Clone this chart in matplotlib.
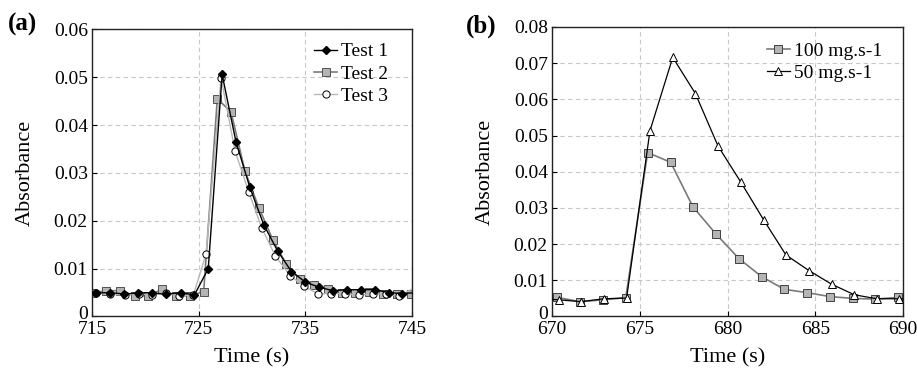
import numpy as np
import matplotlib
matplotlib.use("Agg")
import matplotlib.pyplot as plt
import matplotlib.transforms as mtransforms

plt.rcParams['font.family'] = ['Liberation Serif', 'DejaVu Serif']
plt.rcParams['font.size'] = 14

# panel (a) - three repeat tests
t1_time = [715.4, 716.7, 718.0, 719.3, 720.6, 721.9, 723.3, 724.6, 725.9, 727.2,
           728.5, 729.8, 731.1, 732.4, 733.7, 735.0, 736.3, 737.6, 738.9, 740.2,
           741.5, 742.8, 744.1, 745.4]
t1_abs = [0.0049, 0.0050, 0.0047, 0.0049, 0.0050, 0.0046, 0.0050, 0.0045, 0.0100, 0.0506,
          0.0365, 0.0270, 0.0192, 0.0137, 0.0094, 0.0072, 0.0061, 0.0054, 0.0056, 0.0056,
          0.0056, 0.0050, 0.0048, 0.0050]

t2_time = [715.0, 716.35, 717.66, 719.0, 720.25, 721.56, 722.85, 724.16, 725.47, 726.75,
           728.03, 729.34, 730.65, 731.96, 733.2, 734.5, 735.8, 737.1, 738.4, 739.7,
           741.0, 742.3, 743.6, 744.9]
t2_abs = [0.0049, 0.0054, 0.0054, 0.0043, 0.0043, 0.0057, 0.0043, 0.0043, 0.0052, 0.0455,
          0.0428, 0.0304, 0.0227, 0.0160, 0.0110, 0.0078, 0.0066, 0.0057, 0.0050, 0.0049,
          0.0052, 0.0046, 0.0046, 0.0046]

t3_time = [715.4, 716.7, 718.1, 719.4, 720.6, 721.9, 723.2, 724.5, 725.7, 727.1,
           728.4, 729.7, 730.9, 732.2, 733.6, 734.9, 736.2, 737.4, 738.7, 740.0,
           741.3, 742.6, 743.8, 745.5]
t3_abs = [0.0049, 0.0046, 0.0045, 0.0048, 0.0045, 0.0049, 0.0043, 0.0045, 0.0131, 0.0499,
          0.0347, 0.0260, 0.0186, 0.0126, 0.0085, 0.0063, 0.0047, 0.0048, 0.0048, 0.0044,
          0.0048, 0.0046, 0.0043, 0.0063]

# panel (b) - two feed rates
f100_time = [669.0, 670.27, 671.6, 672.9, 674.2, 675.45, 676.76, 678.03, 679.36, 680.65,
             681.95, 683.24, 684.53, 685.84, 687.13, 688.42, 689.72, 691.0]
f100_abs = [0.0050, 0.0053, 0.0041, 0.0046, 0.0052, 0.0453, 0.0426, 0.0303, 0.0227, 0.0160,
            0.0110, 0.0075, 0.0066, 0.0055, 0.0050, 0.0048, 0.0053, 0.0050]

f50_time = [669.1, 670.4, 671.65, 672.96, 674.25, 675.58, 676.88, 678.17, 679.46, 680.75,
            682.06, 683.33, 684.64, 685.94, 687.23, 688.5, 689.8, 691.1]
f50_abs = [0.0050, 0.0046, 0.0041, 0.0049, 0.0051, 0.0513, 0.0716, 0.0616, 0.0471, 0.0372,
           0.0267, 0.0170, 0.0127, 0.0089, 0.0060, 0.0049, 0.0049, 0.0050]

fig = plt.figure(figsize=(9.17, 3.77), dpi=100)
ax_a = fig.add_axes([0.1003, 0.1605, 0.349, 0.7613])
ax_b = fig.add_axes([0.602, 0.1605, 0.3827, 0.768])

grid_style = dict(color='#c8c8c8', linestyle=(0, (4, 3)), linewidth=0.8)
leg_style = dict(loc='upper right', frameon=False, handlelength=1.2,
                 handletextpad=0.2, labelspacing=0.25, fontsize=14,
                 borderaxespad=0)

# (a)
ax_a.plot(t3_time, t3_abs, color='#b8b8b8', lw=1.0, marker='o', ms=5.2,
          mfc='white', mec='black', mew=0.7, label='Test 3', zorder=3)
ax_a.plot(t2_time, t2_abs, color='#7a7a7a', lw=1.2, marker='s', ms=5.2,
          mfc='#b4b4b4', mec='#505050', mew=0.7, label='Test 2', zorder=2)
ax_a.plot(t1_time, t1_abs, color='black', lw=1.0, marker='D', ms=3.8,
          mfc='black', mec='black', label='Test 1', zorder=4)
ax_a.set_xlim(715, 745)
ax_a.set_ylim(0, 0.06)
ax_a.set_xticks([715, 725, 735, 745])
ax_a.set_yticks(np.arange(0, 0.061, 0.01))
ax_a.set_yticklabels(['0', '0.01', '0.02', '0.03', '0.04', '0.05', '0.06'])
h, l = ax_a.get_legend_handles_labels()
ax_a.legend(h[::-1], l[::-1], bbox_to_anchor=(0.95, 0.981), **leg_style)
ax_a.text(-0.2625, 1.016, '(a)', transform=ax_a.transAxes, fontsize=18,
          fontweight='bold', va='center', ha='left')
ax_a.yaxis.set_label_coords(-0.178, 0.5)
ax_a.xaxis.set_label_coords(0.5, -0.112)

# (b)
ax_b.plot(f100_time, f100_abs, color='#7a7a7a', lw=1.2, marker='s', ms=5.5,
          mfc='#b4b4b4', mec='#404040', mew=0.7, label='100 mg.s-1', zorder=2)
ax_b.plot(f50_time, f50_abs, color='black', lw=0.9, marker='^', ms=6,
          mfc='white', mec='black', mew=0.7, label='50 mg.s-1', zorder=3)
ax_b.set_xlim(670, 690)
ax_b.set_ylim(0, 0.08)
ax_b.set_xticks([670, 675, 680, 685, 690])
ax_b.set_yticks(np.arange(0, 0.081, 0.01))
ax_b.set_yticklabels(['0', '0.01', '0.02', '0.03', '0.04', '0.05', '0.06', '0.07', '0.08'])
ax_b.legend(bbox_to_anchor=(0.963, 0.975), **leg_style)
ax_b.text(-0.245, 1.004, '(b)', transform=ax_b.transAxes, fontsize=18,
          fontweight='bold', va='center', ha='left')
ax_b.yaxis.set_label_coords(-0.162, 0.5)
ax_b.xaxis.set_label_coords(0.5, -0.11)

for ax in (ax_a, ax_b):
    ax.grid(True, **grid_style)
    ax.set_axisbelow(True)
    ax.tick_params(direction='in', length=3.5, width=0.8, labelsize=14, pad=3)
    ax.set_xlabel('Time (s)', fontsize=16)
    ax.set_ylabel('Absorbance', fontsize=16)
    for s in ax.spines.values():
        s.set_linewidth(1.0)
        s.set_color('#222222')
    # the zero label sits a little higher than the axis line
    zero = ax.get_yticklabels()[0]
    zero.set_transform(zero.get_transform() +
                       mtransforms.ScaledTranslation(0, 4 / 100, fig.dpi_scale_trans))

fig.savefig('out.png', dpi=100)
